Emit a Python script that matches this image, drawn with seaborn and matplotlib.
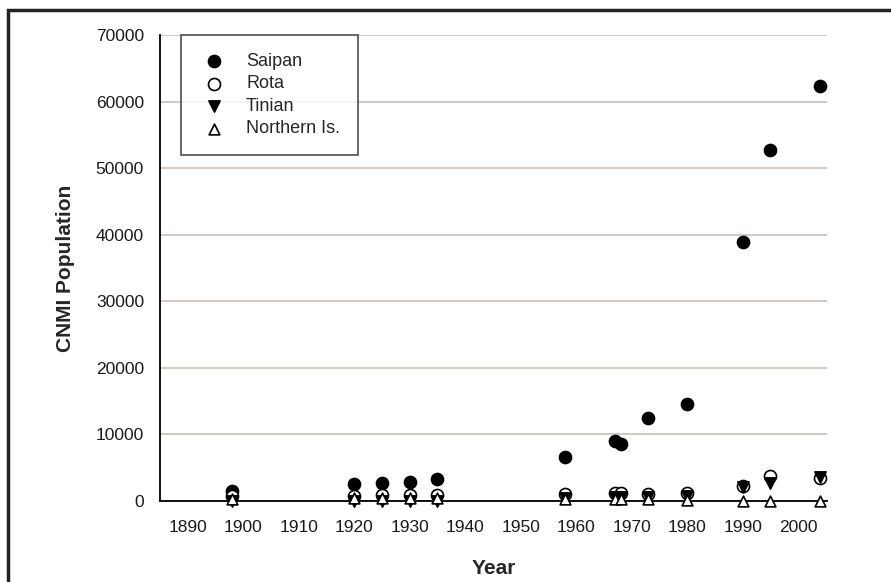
import matplotlib
matplotlib.use("Agg")
import matplotlib.pyplot as plt
from matplotlib.patches import Rectangle
import pandas as pd
import seaborn as sns

# Census years and island populations
years = [1898, 1920, 1925, 1930, 1935, 1958, 1967, 1968, 1973, 1980, 1990, 1995, 2004]
saipan = [1550, 2550, 2750, 2900, 3250, 6650, 9050, 8600, 12400, 14550, 38900, 52700, 62300]
rota = [750, 750, 900, 900, 950, 1050, 1150, 1200, 1100, 1250, 2300, 3800, 3400]
tinian = [0, 0, 0, 0, 0, 400, 550, 600, 650, 700, 2100, 2700, 3550]
northern = [250, 500, 500, 450, 450, 350, 300, 300, 250, 150, 50, 20, 10]

series_names = ["Saipan", "Rota", "Tinian", "Northern Is."]
x_ticks = list(range(1890, 2001, 10))
y_ticks = list(range(0, 70001, 10000))

df = pd.DataFrame({
    "Year": years * 4,
    "Population": saipan + rota + tinian + northern,
    "Island": sum([[n] * len(years) for n in series_names], []),
})

sns.set_style("white")
plt.rcParams["font.family"] = ["Liberation Sans", "DejaVu Sans"]

fig = plt.figure(figsize=(8.91, 5.82), dpi=100)
ax = fig.add_axes([160 / 891, 1 - 501 / 582, 667 / 891, 466 / 582])

styles = {
    "Saipan": dict(marker="o", facecolor="black", s=75),
    "Rota": dict(marker="o", facecolor="white", s=75),
    "Tinian": dict(marker="v", facecolor="black", s=65),
    "Northern Is.": dict(marker="^", facecolor="white", s=60),
}
for name in series_names:
    st = styles[name]
    sns.scatterplot(
        data=df[df["Island"] == name], x="Year", y="Population",
        marker=st["marker"], s=st["s"], color=st["facecolor"],
        edgecolor="black", linewidth=1.2, label=name, ax=ax, zorder=3,
    )
# let markers sitting on the baseline overhang the axis
for coll in ax.collections:
    coll.set_clip_on(False)

ax.set_xlim(1885, 2005.2)
ax.set_ylim(0, 70000)
ax.set_xticks(x_ticks)
ax.set_yticks(y_ticks)
ax.set_xticklabels([str(t) for t in x_ticks])
ax.set_yticklabels([str(t) for t in y_ticks])

ax.yaxis.grid(True, color="#cfc5bf", linewidth=1.3)
ax.xaxis.grid(False)
ax.set_axisbelow(True)

for side in ["top", "right"]:
    ax.spines[side].set_visible(False)
for side in ["left", "bottom"]:
    ax.spines[side].set_color("black")
    ax.spines[side].set_linewidth(1.3)

ax.tick_params(axis="both", which="major", direction="out", color="black",
               labelsize=12.5, labelcolor="#1a1a1a")
ax.tick_params(axis="y", length=5.5, width=1.0, pad=6)
ax.tick_params(axis="x", length=4.5, width=1.0, pad=9)

ax.set_xlabel("Year", fontsize=15, fontweight="bold")
ax.set_ylabel("CNMI Population", fontsize=15, fontweight="bold")
ax.xaxis.set_label_coords(0.5, -0.125)
ax.yaxis.set_label_coords(-0.127, 0.5)

leg = ax.legend(loc="upper left", bbox_to_anchor=(21 / 667, 1.0), borderaxespad=0,
                frameon=True, fancybox=False, fontsize=13, labelspacing=0.3,
                handletextpad=1.0, borderpad=1.0, handlelength=1.6)
leg.get_frame().set_edgecolor("#333333")
leg.get_frame().set_linewidth(1.3)
leg.set_zorder(5)

# page frame running off the right and bottom edges
fig.add_artist(Rectangle((8 / 891, -0.1), 1.2, 1.1 - 10 / 582, transform=fig.transFigure,
                         fill=False, edgecolor="#222222", linewidth=2.5))

fig.savefig("out.png", dpi=100, facecolor="white")
